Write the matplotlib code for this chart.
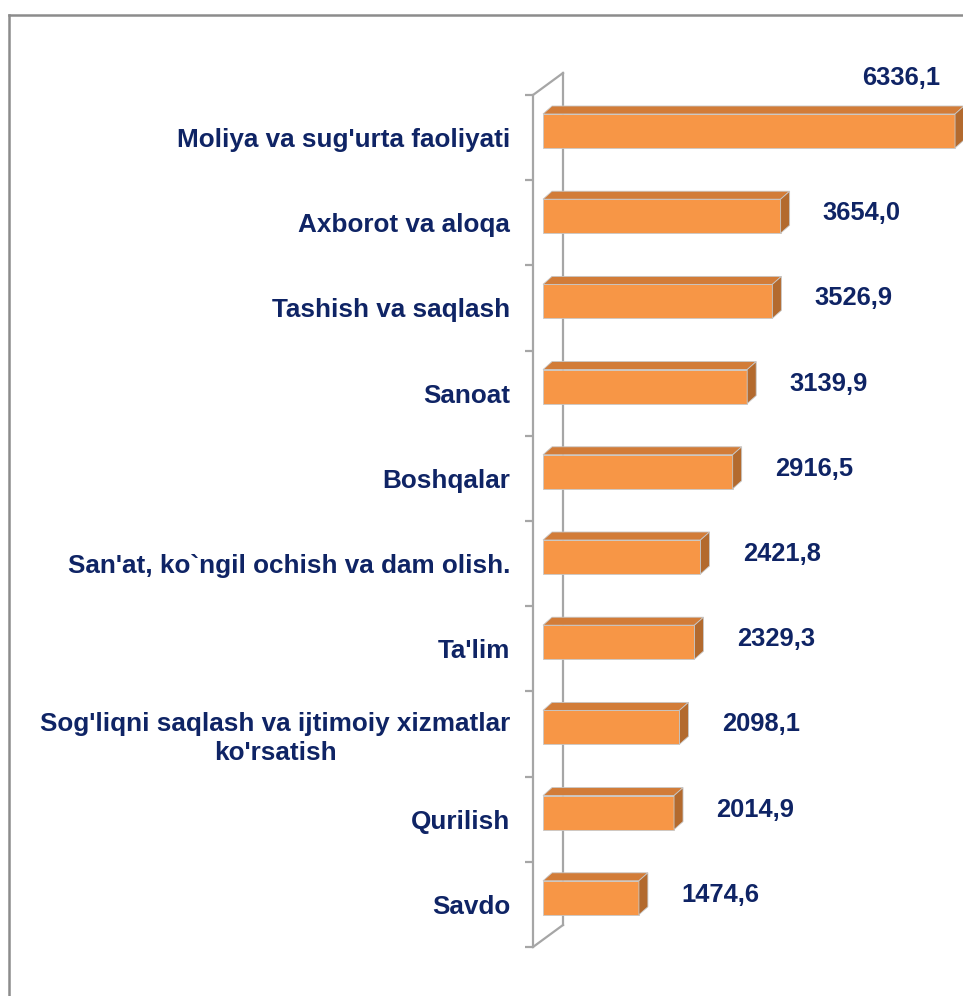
import matplotlib
matplotlib.use("Agg")
import matplotlib.pyplot as plt
from matplotlib.patches import Polygon
from matplotlib.lines import Line2D

# ── Data ───────────────────────────────────────────────────────────────────
categories = [
    "Moliya va sug'urta faoliyati",
    "Axborot va aloqa",
    "Tashish va saqlash",
    "Sanoat",
    "Boshqalar",
    "San'at, ko`ngil ochish va dam olish.",
    "Ta'lim",
    "Sog'liqni saqlash va ijtimoiy xizmatlar\nko'rsatish",
    "Qurilish",
    "Savdo",
]
values = [6336.1, 3654.0, 3526.9, 3139.9, 2916.5, 2421.8, 2329.3, 2098.1, 2014.9, 1474.6]
value_labels = ["6336,1", "3654,0", "3526,9", "3139,9", "2916,5",
                "2421,8", "2329,3", "2098,1", "2014,9", "1474,6"]

# ── Style ──────────────────────────────────────────────────────────────────
plt.rcParams["font.family"] = ["Liberation Sans", "DejaVu Sans"]
TEXT_COLOR = "#0F2465"
FRONT = "#F79646"
TOP = "#D27C38"
SIDE = "#B36A2E"
EDGE = "#C8C8C8"
WALL = "#A6A6A6"

W, H = 963, 996
fig = plt.figure(figsize=(W / 100, H / 100), dpi=100)

# axes placed in pixels: left spine = front wall line
ax_l, ax_r, ax_t, ax_b = 533, 963, 95, 947
ax = fig.add_axes([ax_l / W, (H - ax_b) / H, (ax_r - ax_l) / W, (ax_b - ax_t) / H])

px_x = 1 / 0.06503                 # data units per pixel (x)
n = len(categories)
px_y = n / (ax_b - ax_t)           # data units per pixel (y)

ax.set_xlim(-10 * px_x, -10 * px_x + (ax_r - ax_l) * px_x)
ax.set_ylim(n - 0.5, -0.5)

# 3D depth of bars and wall
dx, dy = 9 * px_x, 8 * px_y
wall_dx, wall_dy = 30 * px_x, 22 * px_y
bar_h = 34 * px_y
shift = 6.6 * px_y

x0 = ax.get_xlim()[0]
# back wall line + diagonals
ax.plot([x0 + wall_dx, x0 + wall_dx], [-0.5 - wall_dy, n - 0.5 - wall_dy],
        color=WALL, lw=1.6, clip_on=False, zorder=1)
ax.plot([x0, x0 + wall_dx], [-0.5, -0.5 - wall_dy], color=WALL, lw=1.6, clip_on=False, zorder=1)
ax.plot([x0, x0 + wall_dx], [n - 0.5, n - 0.5 - wall_dy], color=WALL, lw=1.6, clip_on=False, zorder=1)

# ── Bars ───────────────────────────────────────────────────────────────────
centers = [i - shift for i in range(n)]
ax.barh(centers, values, height=bar_h, color=FRONT, edgecolor=EDGE, linewidth=0.6, zorder=3)
for c, v in zip(centers, values):
    top = c - bar_h / 2
    bot = c + bar_h / 2
    ax.add_patch(Polygon([(0, top), (v, top), (v + dx, top - dy), (dx, top - dy)],
                         closed=True, facecolor=TOP, edgecolor=EDGE, lw=0.6,
                         zorder=3, clip_on=False))
    ax.add_patch(Polygon([(v, top), (v + dx, top - dy), (v + dx, bot - dy), (v, bot)],
                         closed=True, facecolor=SIDE, edgecolor=EDGE, lw=0.6,
                         zorder=3, clip_on=False))

# value labels
xmax = ax.get_xlim()[1]
for c, v, lab in zip(centers, values, value_labels):
    xl = v + 1250
    if xl + 40 * px_x > xmax:
        ax.text(v - 830, c - 53 * px_y, lab, ha="center", va="center",
                fontsize=18.4, fontweight="bold", color=TEXT_COLOR, clip_on=False)
    else:
        ax.text(xl, c - 3 * px_y, lab, ha="center", va="center",
                fontsize=18.4, fontweight="bold", color=TEXT_COLOR)

# ── Axes styling ───────────────────────────────────────────────────────────
for s in ["top", "right", "bottom"]:
    ax.spines[s].set_visible(False)
ax.spines["left"].set_color(WALL)
ax.spines["left"].set_linewidth(1.6)
ax.set_xticks([])
ax.set_yticks([i - 0.5 for i in range(n + 1)])
ax.set_yticklabels([])
ax.tick_params(axis="y", which="major", length=5.8, width=1.6, color=WALL, direction="out")
ax.set_yticks(range(n), minor=True)
ax.set_yticklabels(categories, minor=True, fontsize=18.8, fontweight="bold", color=TEXT_COLOR,
                   linespacing=1.25)
ax.tick_params(axis="y", which="minor", length=0, pad=16.5)
for t in ax.get_yticklabels(minor=True):
    t.set_multialignment("center")
ax.patch.set_visible(False)

# outer frame (top and left edges visible)
fig.add_artist(Line2D([9 / W, 1], [1 - 15 / H, 1 - 15 / H], color="#8C8C8C", lw=1.8))
fig.add_artist(Line2D([9 / W, 9 / W], [0, 1 - 15 / H], color="#8C8C8C", lw=1.8))

fig.savefig("out.png", dpi=100)
